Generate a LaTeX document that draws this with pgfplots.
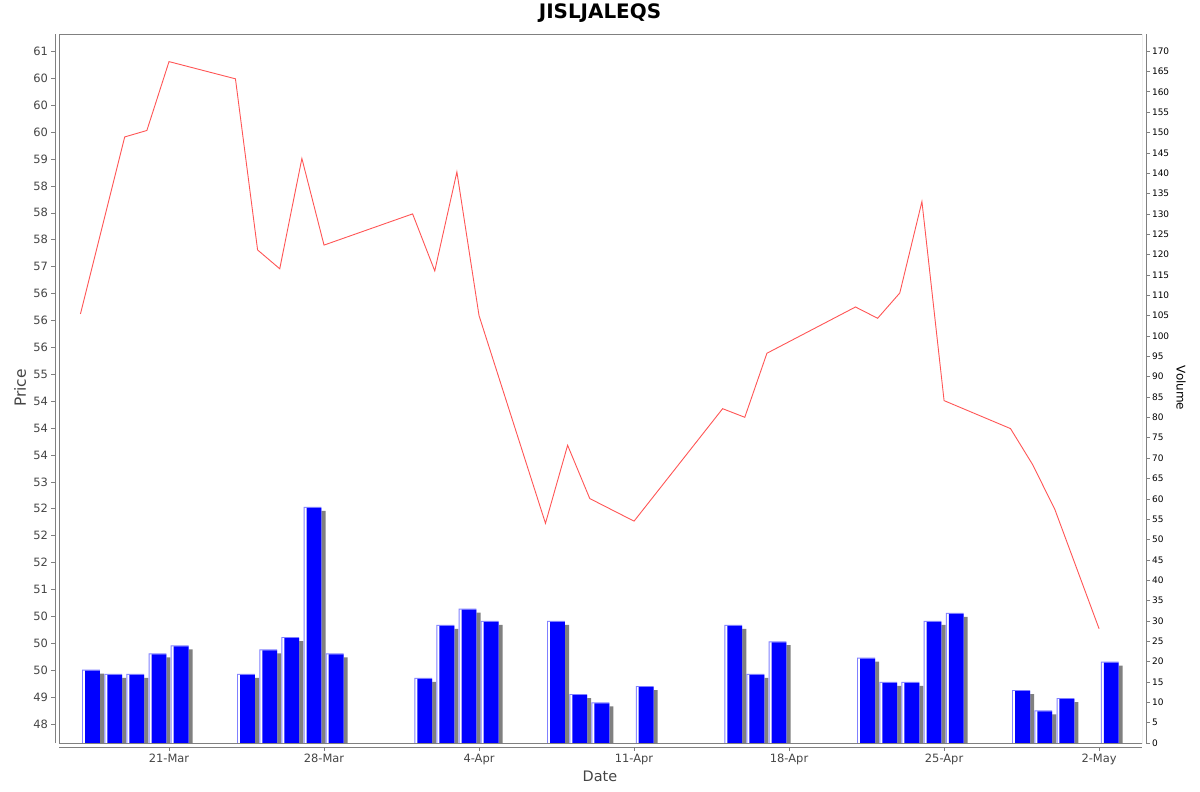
\documentclass[border=0pt]{standalone}
\usepackage{pgfplots}
\pgfplotsset{compat=1.18}
\usepackage{pgfplotstable}
\usepackage{fontspec}
\setmainfont{DejaVu Sans}
\definecolor{axgray}{HTML}{808080}
\definecolor{lblgray}{HTML}{444444}
\definecolor{barblue}{HTML}{0000FF}
\definecolor{barlight}{HTML}{8080FF}
\definecolor{shadowgray}{HTML}{808080}
\definecolor{linered}{HTML}{FF5555}

% day offsets relative to 21-Mar
\pgfplotstableread{
d p
-4 56.12
-2 59.41
-1 59.53
0 60.81
3 60.49
4 57.31
5 56.96
6 59.01
7 57.40
11 57.98
12 56.92
13 58.76
14 56.09
17 52.23
18 53.68
19 52.69
21 52.27
25 54.36
26 54.20
27 55.39
31 56.25
32 56.04
33 56.51
34 58.21
35 54.51
38 53.99
39 53.32
40 52.49
42 50.27
}\pricetable

\pgfplotstableread{
d v
-4 18
-3 17
-2 17
-1 22
0 24
3 17
4 23
5 26
6 58
7 22
11 16
12 29
13 33
14 30
17 30
18 12
19 10
21 14
25 29
26 17
27 25
31 21
32 15
33 15
34 30
35 32
38 13
39 8
40 11
42 20
}\voltable

\begin{document}
\begin{tikzpicture}
\useasboundingbox (0bp,0bp) rectangle (1200bp,-792bp);
% ---------- volume axis (right) ----------
\begin{axis}[
  at={(59bp,-743bp)}, anchor=south west,
  scale only axis, width=1083bp, height=709bp,
  xmin=-4.968, xmax=43.94, ymin=0, ymax=174.2,
  axis x line=none,
  axis y line*=right,
  axis y line shift=4bp,
  axis line style={-, draw=axgray, line width=0.8bp},
  ytick={0,5,...,170},
  tick align=outside,
  major tick length=3.5bp,
  tick style={draw=axgray, line width=0.6bp},
  /pgf/number format/assume math mode=true,
  yticklabel style={font=\fontsize{9}{10}\selectfont, text=black, xshift=-1bp},
  clip=true,
]
\addplot[ybar, bar width=0.809, bar shift=0.662, fill=shadowgray, draw=none]
  table[x=d, y expr=\thisrow{v}-0.98] {\voltable};
\addplot[ybar, bar width=0.804, bar shift=0.479, fill=barlight, draw=none]
  table[x=d, y=v] {\voltable};
\addplot[ybar, bar width=0.759, bar shift=0.5015, fill=white, draw=none]
  table[x=d, y expr=\thisrow{v}-0.2457] {\voltable};
\addplot[ybar, bar width=0.669, bar shift=0.5465, fill=barblue, draw=none]
  table[x=d, y expr=\thisrow{v}-0.2457] {\voltable};
\end{axis}
% ---------- price axis (left) ----------
\begin{axis}[
  at={(59bp,-743bp)}, anchor=south west,
  scale only axis, width=1083bp, height=709bp,
  xmin=-4.968, xmax=43.94, ymin=48.147, ymax=61.323,
  axis x line*=bottom,
  axis y line*=left,
  axis x line shift=4bp,
  axis y line shift=4bp,
  axis line style={-, draw=axgray, line width=0.8bp},
  ytick={48.5,49,49.5,50,50.5,51,51.5,52,52.5,53,53.5,54,54.5,55,55.5,56,56.5,57,57.5,58,58.5,59,59.5,60,60.5,61},
  yticklabels={48,49,50,50,50,51,52,52,52,53,54,54,54,55,56,56,56,57,58,58,58,59,60,60,60,61},
  xtick={0,7,14,21,28,35,42},
  xticklabels={21-Mar,28-Mar,4-Apr,11-Apr,18-Apr,25-Apr,2-May},
  tick align=outside,
  major tick length=3.5bp,
  tick style={draw=axgray, line width=0.6bp},
  /pgf/number format/assume math mode=true,
  yticklabel style={font=\fontsize{11.5}{12}\selectfont, text=lblgray},
  xticklabel style={font=\fontsize{11.5}{12}\selectfont, text=lblgray},
]
\draw[axgray, line width=0.8bp] (rel axis cs:0,0) rectangle (rel axis cs:1,1);
\addplot[linered, line width=0.9bp, mark=none] table[x=d, y=p] {\pricetable};
\end{axis}
% ---------- titles and labels ----------
\node[font=\bfseries\fontsize{20}{24}\selectfont] at (600bp,-13bp) {JISLJALEQS};
\node[font=\fontsize{14.5}{16}\selectfont, text=lblgray] at (600bp,-776bp) {Date};
\node[font=\fontsize{15.5}{17}\selectfont, text=lblgray, rotate=90] at (20bp,-388bp) {Price};
\node[font=\fontsize{12}{14}\selectfont, text=black, rotate=-90] at (1181bp,-388bp) {Volume};
\end{tikzpicture}
\end{document}
